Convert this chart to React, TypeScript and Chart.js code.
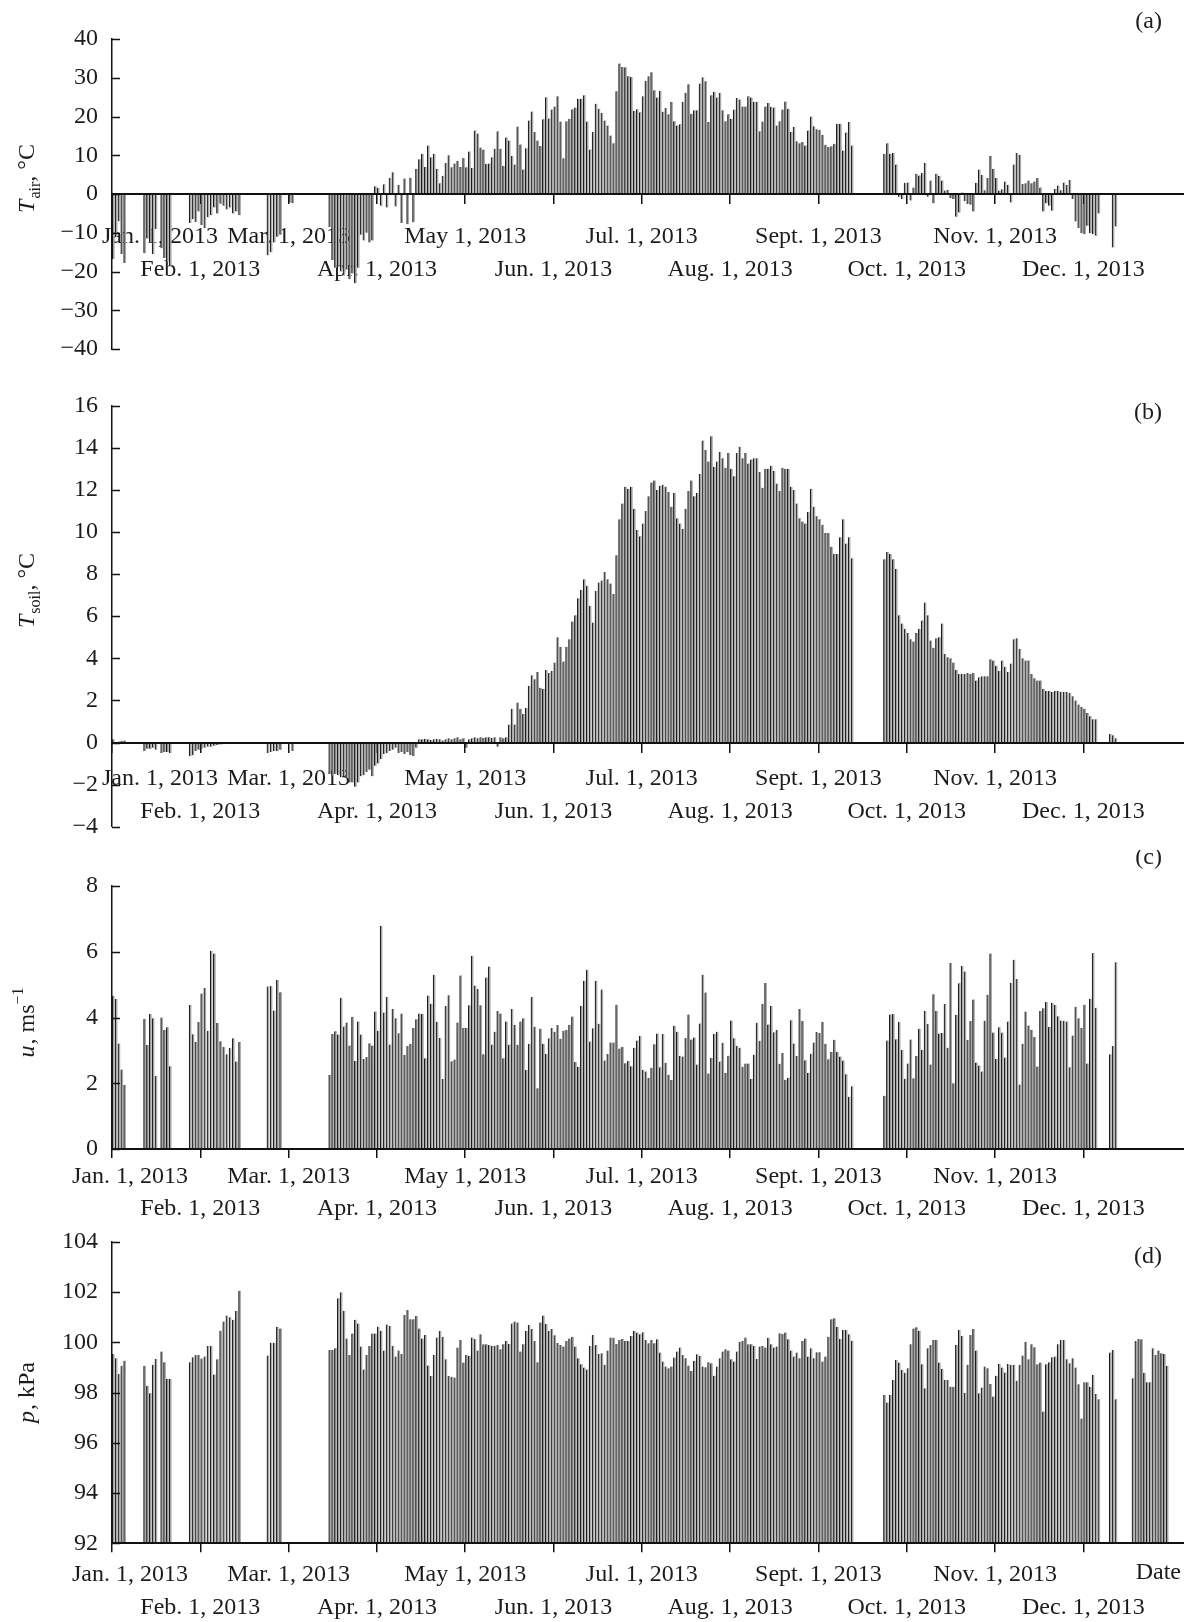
import React, { useEffect, useRef } from "react";
import { Chart, registerables } from "chart.js";

Chart.register(...registerables);

// ---------- axis / label data ----------
const monthLabels = [
  "Jan. 1, 2013", "Feb. 1, 2013", "Mar. 1, 2013", "Apr. 1, 2013",
  "May 1, 2013", "Jun. 1, 2013", "Jul. 1, 2013", "Aug. 1, 2013",
  "Sept. 1, 2013", "Oct. 1, 2013", "Nov. 1, 2013", "Dec. 1, 2013",
];
const daysInMonth = [31, 28, 31, 30, 31, 30, 31, 31, 30, 31, 30, 31];

// ---------- series: [first day of year (0 = Jan 1), daily values...] ----------
const tairSegments: [number, number[]][] = [
  [0, [-16.8, -11, -7, -15.5, -17.8]],
  [11, [-15.3, -11.5, -12.5, -15.5, -9]],
  [17, [-14, -16.5, -17.5, -18.5]],
  [27, [-7.5, -6.5, -7.2, -4.5, -8, -8.8, -6, -5.5, -3.5, -5, -2.5, -3, -4, -3.5, -5, -4.5, -5.5]],
  [52, [-15.8, -15, -12.5, -11, -10.5]],
  [59, [-2.2, -2.4]],
  [73, [-8.5, -17, -19, -18.5, -20, -21, -19.5, -22, -20.5, -23, -19, -10.5, -12, -10, -12.5, -12, 2, 1.6, -3, 2.5,
    -3.5, 4.2, 5.6, -3.2, 2.3, -7.5, 4, -7.8, 4.2, -7.3, 6.5, 9, 10.4, 7, 12.5]],
  [108, [9.5, 10.4, 6.5, 2.8, 4.7, 8, 10, 6.9, 7.9, 8.6, 7, 9.3, 6.9, 11, 6.7, 16.4, 15.6, 12, 11.5, 7.8,
    7.9, 9.5, 11.7, 16.2, 11.7, 7.3, 14.6, 13.8, 9.8, 7.6, 17.4, 12.8, 6.3, 11.8, 19, 21.3, 16, 13.8, 12.4, 19.3,
    25, 19.5, 21.8, 22.6, 25.2, 18.7, 9.2, 18.8, 19.4, 21.9, 22.3, 24.6, 24.6, 25.5, 18.7, 11.5]],
  [164, [16, 23.3, 22, 20.9, 19, 17.7, 15.1, 13.1, 26.5, 33.7, 32.8, 32.7, 30.4, 30.2, 21.4, 21.9, 21.1, 25.2, 29.2, 30.4,
    31.4, 26.8, 24.9, 26.6, 21.2, 22.2, 20.6, 23.8, 18.8, 17.7, 18, 23.8, 26.1, 28.3, 20.7, 21.6, 21.6, 28.5, 30.1, 29.1,
    18.6, 25.5, 26.4, 24.9, 26.1, 21.6, 18.8, 20.6, 19.4, 21.8, 24.8, 24.4, 22.6, 22.6, 25.2, 24.9, 23.8, 23.8, 16.2, 18.7,
    22.6, 23.5, 22.5, 22.3, 17.7, 18.8, 21.8, 23.9, 22, 16, 17.3, 13.6, 13.1, 13.4, 12.5, 16.4, 20, 17.5, 16.7, 16.6,
    15.3, 12.7, 12.1, 12.3, 13, 18.1, 18.1, 11.2, 15.9, 18.6, 12.5]],
  [265, [10.4, 13.1, 10.4, 10.6, 7.6, -0.7, -1.3, 2.9, 3, -1.7, 1.7, 5.2, 4.8, 5.4, 8, -0.7, 3.5, -2.4, 5.2, 4.7,
    3.5, 0.9, 1.1, -1, -1.3, -5.9, -4.8, 0.4, -1.9, -2.6, -2.8, -4.5, 2.9, 6.3, 4.9, 1, 4.1, 9.8, 6.5, 4.1,
    0.9, 1.2, 3.2, 2.4, -2.2, 7.6, 10.6, 10.1, 2.6, 2.8, 3.5, 2.8, 3.2, 4.1, 1.7, -4.5, -2.4, -3, -4.3, 1.3,
    2.2, 1, 3, 2.3, 3.6, -1.3, -7.1, -8.8, -10.1, -10.4, -8.2, -10.1, -10.4, -10.8, -5]],
  [344, [-13.8, -8.4]],
];

const tsoilSegments: [number, number[]][] = [
  [0, [0.15, -0.08, 0.05, 0.08, 0.1]],
  [11, [-0.4, -0.3, -0.3, -0.25, -0.35]],
  [17, [-0.5, -0.45, -0.45, -0.5]],
  [27, [-0.65, -0.6, -0.4, -0.35, -0.3, -0.25, -0.2, -0.2, -0.15, -0.12, -0.1, -0.08, -0.05, -0.05, -0.03, -0.02, -0.02]],
  [52, [-0.5, -0.45, -0.4, -0.4, -0.35]],
  [60, [-0.4]],
  [73, [-1.5, -1.6, -1.5, -1.55, -1.65, -1.6, -1.7, -1.9, -1.9, -2.1, -1.9, -1.6, -1.55, -1.4, -1.3, -1.6, -1.1, -1.0, -0.8, -0.55,
    -0.5, -0.4, -0.35, -0.25, -0.5, -0.45, -0.55, -0.45, -0.6, -0.65, -0.25]],
  [104, [0.15, 0.15, 0.18, 0.15, 0.12, 0.15, 0.18, 0.15, 0.1, 0.15, 0.2, 0.15, 0.2, 0.25, 0.15, 0.2, -0.25, 0.15, 0.2, 0.25,
    0.2, 0.25, 0.22, 0.25, 0.25, 0.22, 0.25, -0.2, 0.25, 0.2, 0.25]],
  [135, [0.85, 1.6, 0.85, 1.9, 1.6, 1.35, 1.65, 2.7, 3.2, 3.0, 3.35, 2.6, 2.55, 3.45, 3.3, 3.4, 3.8, 5.0, 4.55, 3.85,
    4.55, 4.9, 5.75, 6.05, 6.85, 7.25, 7.75, 7.45, 6.5]],
  [164, [5.7, 7.2, 7.6, 7.7, 8.1, 7.75, 7.55, 7.05, 8.9, 10.6, 11.35, 12.15, 12.05, 12.15, 11.1, 10.1, 9.8, 10.4, 11.0, 11.7,
    12.35, 12.45, 12.0, 12.2, 12.25, 12.15, 11.9, 11.2, 11.85, 10.65, 10.4, 10.15, 11.1, 11.95, 12.45, 11.7, 11.85, 12.75, 14.35,
    13.9, 13.35, 14.55, 13.1, 13.35, 13.8, 13.5, 13.05, 13.75, 13.0, 12.65, 13.75, 14.05, 13.5, 13.75, 13.25, 13.45, 13.5, 13.5, 12.85,
    12.1, 13.0, 13.0, 13.15, 12.9, 12.3, 11.95, 13.05, 13.0, 13.0, 12.15, 12.0, 11.35, 10.65, 10.5, 10.4, 10.95, 12.05, 11.2, 10.75,
    10.6, 10.35, 9.95, 9.95, 9.3, 8.95, 8.95, 9.75, 10.6, 9.45, 9.75, 8.75]],
  [265, [8.7, 9.05, 8.95, 8.7, 8.25, 6.05, 5.65, 5.4, 5.2, 4.9, 4.8, 5.2, 5.4, 5.8, 6.65, 6.05, 4.85, 4.5, 4.95, 5.0,
    5.65, 4.2, 4.05, 4.0, 3.8, 3.45, 3.25, 3.25, 3.25, 3.3, 3.25, 3.3, 2.95, 3.1, 3.15, 3.15, 3.15, 3.95, 3.9, 3.65,
    3.4, 3.9, 3.6, 3.35, 3.75, 4.9, 4.95, 4.45, 4.0, 3.9, 3.9, 3.25, 3.05, 2.95, 2.95, 2.55, 2.45, 2.45, 2.4, 2.45,
    2.45, 2.4, 2.4, 2.4, 2.35, 2.2, 2.0, 1.8, 1.7, 1.6, 1.4, 1.25, 1.1, 1.1]],
  [343, [0.4, 0.35, 0.2]],
];

const windSegments: [number, number[]][] = [
  [0, [4.66, 4.56, 3.21, 2.42, 1.95]],
  [11, [3.96, 3.16, 4.11, 3.98, 2.22]],
  [17, [4.0, 3.62, 3.7, 2.52]],
  [27, [4.38, 3.49, 3.26, 3.86, 4.73, 4.9, 3.6, 6.03, 5.95, 3.83, 3.28, 3.1, 2.88, 3.07, 3.37, 2.66, 3.26]],
  [52, [4.94, 4.96, 4.21, 5.14, 4.77]],
  [73, [2.25, 3.5, 3.58, 3.48, 4.6, 3.73, 3.85, 3.15, 4.02, 2.68, 3.88, 3.48, 2.74, 2.8, 3.22, 3.15, 4.18, 3.6, 6.78, 4.15,
    4.62, 3.18, 4.26, 3.98, 3.52, 4.12, 2.86, 3.13, 3.2, 3.68, 3.95, 4.12, 4.11, 2.76, 4.67, 4.42, 5.3, 3.87, 3.38, 2.13,
    4.35, 4.68, 2.67, 2.72, 3.85, 5.28, 3.68, 3.68, 4.37, 5.88, 4.97, 4.87, 4.37, 2.88, 5.22, 5.55, 3.18, 3.57, 4.2, 4.12,
    2.76, 3.88, 3.17, 4.26, 3.78, 3.17, 3.88, 3.98, 2.4, 3.2, 4.62, 3.72, 1.85, 3.66, 3.2, 2.9, 3.37, 3.68, 3.57, 3.77,
    3.35, 3.6, 3.62, 3.78, 4.03, 2.65, 2.5, 4.35, 5.12, 5.45, 3.27]],
  [164, [3.67, 5.12, 3.81, 4.85, 2.69, 2.89, 3.24, 3.24, 4.39, 3.06, 3.11, 2.61, 2.68, 2.52, 3.08, 3.3, 3.44, 2.41, 2.36, 2.17,
    2.47, 3.19, 3.51, 2.49, 3.5, 2.62, 2.26, 2.1, 3.75, 3.57, 2.84, 2.81, 3.38, 4.09, 3.33, 3.39, 2.57, 3.82, 5.3, 4.76,
    2.3, 2.77, 3.5, 3.57, 2.66, 3.23, 2.32, 2.84, 3.91, 3.37, 3.14, 3.08, 2.5, 2.6, 2.6, 2.13, 2.87, 3.84, 3.29, 4.42,
    5.05, 3.79, 4.35, 3.55, 3.62, 2.59, 2.92, 2.11, 2.17, 3.92, 3.21, 2.83, 4.26, 3.89, 2.7, 2.32, 2.9, 3.24, 3.56, 3.53,
    3.87, 3.2, 2.73, 2.95, 3.32, 2.96, 2.81, 2.69, 2.27, 1.59, 1.91]],
  [265, [1.62, 3.3, 4.09, 4.11, 3.34, 3.87, 3.01, 2.14, 2.6, 3.33, 2.15, 2.83, 3.66, 3.02, 4.2, 3.81, 2.57, 4.71, 4.2, 3.51,
    3.53, 4.41, 3.08, 5.66, 2.0, 4.08, 5.04, 5.57, 5.4, 3.32, 3.89, 4.55, 2.63, 2.54, 2.36, 3.9, 4.69, 5.95, 3.54, 2.74,
    3.7, 3.54, 2.78, 3.88, 5.05, 5.76, 5.17, 1.96, 3.2, 4.18, 3.76, 3.63, 3.41, 2.51, 4.2, 4.28, 4.47, 3.71, 4.45, 4.38,
    4.04, 3.91, 3.9, 3.88, 2.49, 3.45, 4.33, 3.98, 3.68, 4.39, 2.6, 4.56, 5.96, 4.3]],
  [343, [2.88, 3.13, 5.68]],
];

const pressureSegments: [number, number[]][] = [
  [0, [99.53, 99.36, 98.74, 99.06, 99.26]],
  [11, [99.06, 98.27, 97.97, 99.1, 99.33]],
  [17, [99.63, 99.2, 98.54, 98.54]],
  [27, [99.2, 99.4, 99.49, 99.49, 99.35, 99.43, 99.85, 99.85, 98.72, 99.32, 100.46, 100.82, 101.06, 100.99, 100.89, 101.24, 102.05]],
  [52, [99.47, 99.98, 99.98, 100.62, 100.55]],
  [73, [99.69, 99.69, 99.76, 101.75, 101.99, 101.24, 100.15, 99.49, 100.35, 100.89, 100.75, 99.83, 98.92, 99.49, 99.85, 100.35, 100.35, 100.62, 100.46, 99.67,
    100.71, 100.65, 99.85, 99.43, 99.67, 99.53, 101.08, 101.28, 100.91, 100.91, 101.04, 100.55, 100.15, 100.29, 99.07, 98.66, 99.49, 100.19, 100.45, 100.22,
    99.32, 98.66, 98.63, 98.6, 99.79, 100.09, 99.19, 99.49, 99.45, 100.19, 100.13, 99.67, 100.32, 99.92, 99.92, 99.89, 99.86, 99.86, 99.89, 99.72,
    99.92, 100.05, 99.93, 100.75, 100.82, 100.79, 99.63, 99.92, 100.45, 100.69, 100.53, 100.05, 99.2, 100.79, 101.06, 100.73, 100.45, 100.53, 100.28, 99.97,
    99.89, 99.83, 100.05, 100.15, 100.22, 99.83, 99.36, 99.12, 98.99, 98.92, 99.85, 100.29]],
  [165, [99.89, 99.53, 99.56, 99.1, 99.67, 100.19, 100.18, 99.93, 100.09, 100.13, 100.05, 100.05, 100.25, 100.45, 100.39, 100.32, 100.4, 100.09, 99.96, 100.09,
    99.96, 100.12, 99.59, 99.23, 99.03, 98.96, 99.03, 99.39, 99.63, 99.79, 99.49, 99.36, 99.07, 98.86, 99.26, 99.52, 99.45, 99.03, 99.0, 99.2,
    99.16, 98.67, 99.03, 99.36, 99.63, 99.72, 99.67, 99.32, 99.23, 99.63, 100.02, 100.05, 100.19, 99.92, 99.92, 99.85, 99.33, 99.83, 99.85, 99.79,
    100.18, 99.92, 99.79, 99.83, 100.36, 100.33, 100.39, 100.12, 99.67, 99.43, 99.59, 99.36, 100.05, 100.15, 99.43, 99.76, 99.36, 99.6, 99.6, 99.23,
    99.43, 100.22, 100.91, 100.95, 100.62, 100.13, 100.49, 100.49, 100.32, 100.06]],
  [265, [97.9, 97.6, 97.9, 98.5, 99.29, 99.19, 98.9, 98.79, 98.96, 99.92, 100.55, 100.6, 100.46, 99.12, 98.17, 99.76, 99.89, 100.09, 100.09, 99.19,
    98.94, 98.5, 98.5, 98.23, 98.23, 99.89, 100.49, 100.25, 97.99, 99.1, 100.29, 100.53, 99.67, 97.97, 98.2, 99.03, 98.96, 98.34, 97.84, 98.67,
    99.13, 98.99, 98.8, 99.13, 99.1, 99.1, 98.47, 99.1, 99.47, 100.02, 99.32, 99.92, 99.8, 99.12, 99.19, 97.24, 99.12, 99.2, 99.4, 99.43,
    99.92, 100.09, 100.09, 99.32, 99.16, 99.36, 98.99, 98.33, 96.97, 98.41, 98.41, 98.23, 98.7, 97.94, 97.73]],
  [343, [99.59, 99.69, 97.73]],
  [351, [98.57, 100.05, 100.13, 100.12, 98.79, 98.41, 98.41, 99.76, 99.49, 99.67, 99.56, 99.53, 99.06]],
];

// ---------- helpers ----------
const FONT = '"Liberation Serif", "Times New Roman", Times, serif';
const TEXT = "#1c1c1c";
const X_MAX = 12.14; // axis runs in month units (each month the same width)

// day of year -> position in month units (centre of the day)
function dayToX(d: number) {
  let m = 0;
  let rem = d;
  while (m < 11 && rem >= daysInMonth[m]) {
    rem -= daysInMonth[m];
    m++;
  }
  return m + (rem + 0.5) / daysInMonth[m];
}

function toPoints(segments: [number, number[]][]) {
  const pts: { x: number; y: number }[] = [];
  for (const [start, vals] of segments) {
    vals.forEach((v, i) => pts.push({ x: dayToX(start + i), y: v }));
  }
  return pts;
}

type TitlePart = { t: string; it?: boolean; sub?: boolean; sup?: boolean };

type Panel = {
  key: string;
  top: number;
  height: number;
  padTop: number;
  padBottom: number;
  xAxisHeight: number;
  zeroAxis: boolean;
  yMin: number;
  yMax: number;
  yStep: number;
  base?: number;
  labelPadding: number;
  janLead: string;
  tag: string;
  tagY: number;
  title: TitlePart[];
  titleY: number;
  showDate?: boolean;
  segments: [number, number[]][];
};

const panels: Panel[] = [
  {
    key: "a", top: 0, height: 380, padTop: 39, padBottom: 31, xAxisHeight: 0, zeroAxis: true,
    yMin: -40, yMax: 40, yStep: 10, labelPadding: 18, janLead: "\u2003\u2003\u2003\u2003",
    tag: "(a)", tagY: 22, title: [{ t: "T", it: true }, { t: "air", sub: true }, { t: ", \u00B0C" }], titleY: 179,
    segments: tairSegments,
  },
  {
    key: "b", top: 380, height: 470, padTop: 25.7, padBottom: 23.3, xAxisHeight: 0, zeroAxis: true,
    yMin: -4, yMax: 16, yStep: 2, labelPadding: 11.5, janLead: "\u2003\u2003\u2003\u2003",
    tag: "(b)", tagY: 413, title: [{ t: "T", it: true }, { t: "soil", sub: true }, { t: ", \u00B0C" }], titleY: 591,
    segments: tsoilSegments,
  },
  {
    key: "c", top: 850, height: 375, padTop: 36, padBottom: 0, xAxisHeight: 76, zeroAxis: false,
    yMin: 0, yMax: 8, yStep: 2, labelPadding: 2.5, janLead: "\u2003\u2002",
    tag: "(c)", tagY: 858, title: [{ t: "u", it: true }, { t: ", ms" }, { t: "\u22121", sup: true }], titleY: 1023,
    segments: windSegments,
  },
  {
    key: "d", top: 1225, height: 397, padTop: 16.7, padBottom: 0, xAxisHeight: 78.7, zeroAxis: false,
    yMin: 92, yMax: 104, yStep: 2, base: 92, labelPadding: 6.5, janLead: "\u2003\u2002",
    tag: "(d)", tagY: 1257, title: [{ t: "p", it: true }, { t: ", kPa" }], titleY: 1393, showDate: true,
    segments: pressureSegments,
  },
];

function fmtY(v: number) {
  return v < 0 ? "\u2212" + Math.abs(v) : String(v);
}

function PanelChart({ p }: { p: Panel }) {
  const ref = useRef<HTMLCanvasElement | null>(null);
  useEffect(() => {
    const canvas = ref.current;
    if (!canvas) return;

    const decorations = {
      id: "decor" + p.key,
      afterDraw(chart: any) {
        const ctx = chart.ctx;
        const area = chart.chartArea;
        const ys = chart.scales.y;
        ctx.save();
        // inward y ticks
        ctx.strokeStyle = "#111";
        ctx.lineWidth = 1.5;
        ys.ticks.forEach((t: any) => {
          const py = Math.round(ys.getPixelForValue(t.value)) + 0.5;
          ctx.beginPath();
          ctx.moveTo(area.left, py);
          ctx.lineTo(area.left + 8, py);
          ctx.stroke();
        });
        // panel tag
        ctx.fillStyle = TEXT;
        ctx.font = "24px " + FONT;
        ctx.textAlign = "right";
        ctx.textBaseline = "middle";
        ctx.fillText(p.tag, 1162, p.tagY - p.top);
        if (p.showDate) {
          ctx.fillText("Date", 1181, 1573 - p.top);
        }
        // rotated y title
        ctx.translate(34, p.titleY - p.top);
        ctx.rotate(-Math.PI / 2);
        ctx.textAlign = "left";
        ctx.textBaseline = "alphabetic";
        const fontOf = (part: TitlePart) =>
          (part.it ? "italic " : "") + (part.sub || part.sup ? "16px " : "24px ") + FONT;
        let total = 0;
        p.title.forEach((part) => {
          ctx.font = fontOf(part);
          total += ctx.measureText(part.t).width;
        });
        let x = -total / 2;
        p.title.forEach((part) => {
          ctx.font = fontOf(part);
          const dy = part.sub ? 6 : part.sup ? -11 : 0;
          ctx.fillText(part.t, x, dy);
          x += ctx.measureText(part.t).width + (part.it ? 1 : 0);
        });
        ctx.restore();
      },
    };

    const dataset: any = {
      data: toPoints(p.segments),
      backgroundColor: "#a9a9a9",
      borderColor: "#1e1e1e",
      borderWidth: { left: 1.2, right: 0, top: 0, bottom: 0 },
      borderSkipped: false,
      barThickness: 2.4,
      grouped: false,
    };
    if (p.base !== undefined) dataset.base = p.base;

    const chart = new Chart(canvas, {
      type: "bar",
      data: { datasets: [dataset] },
      options: {
        animation: false,
        responsive: false,
        devicePixelRatio: 1,
        layout: { padding: { top: p.padTop, bottom: p.padBottom, left: 0, right: 0 } },
        plugins: { legend: { display: false }, tooltip: { enabled: false } },
        scales: {
          x: {
            type: "linear",
            min: 0,
            max: X_MAX,
            offset: false,
            position: p.zeroAxis ? { y: 0 } : "bottom",
            afterBuildTicks: (s: any) => {
              s.ticks = monthLabels.map((_l, i) => ({ value: i }));
            },
            afterFit: (s: any) => {
              s.height = p.xAxisHeight;
              s.paddingLeft = 0;
              s.paddingRight = 0;
            },
            grid: {
              display: true,
              offset: false,
              drawOnChartArea: false,
              drawTicks: true,
              tickLength: 9,
              color: "#111",
              lineWidth: 1.5,
            },
            border: { display: true, color: "#111", width: 2, z: 1 },
            ticks: {
              autoSkip: false,
              maxRotation: 0,
              minRotation: 0,
              padding: p.labelPadding,
              color: TEXT,
              font: { family: FONT, size: 24, lineHeight: 1.35 },
              callback: (_v: any, i: number) => {
                const lab = (i === 0 ? p.janLead : "") + monthLabels[i];
                return i % 2 === 0 ? [lab, ""] : ["", lab];
              },
            },
          } as any,
          y: {
            type: "linear",
            min: p.yMin,
            max: p.yMax,
            position: "left",
            afterFit: (s: any) => {
              s.width = 112;
              s.paddingTop = 0;
              s.paddingBottom = 0;
            },
            grid: { display: false, drawTicks: false },
            border: { display: true, color: "#111", width: 1.5, z: 1 },
            ticks: {
              stepSize: p.yStep,
              padding: 14,
              color: TEXT,
              font: { family: FONT, size: 24 },
              callback: (v: any) => fmtY(Number(v)),
            },
          } as any,
        },
      },
      plugins: [decorations],
    } as any);
    return () => chart.destroy();
  }, [p]);

  return (
    <canvas
      ref={ref}
      width={1184}
      height={p.height}
      style={{ position: "absolute", left: 0, top: p.top, width: 1184, height: p.height }}
    />
  );
}

export default function App() {
  return (
    <div
      style={{
        position: "absolute",
        left: 0,
        top: 0,
        width: 1184,
        height: 1622,
        background: "#ffffff",
        overflow: "hidden",
      }}
    >
      {panels.map((p) => (
        <PanelChart key={p.key} p={p} />
      ))}
    </div>
  );
}
